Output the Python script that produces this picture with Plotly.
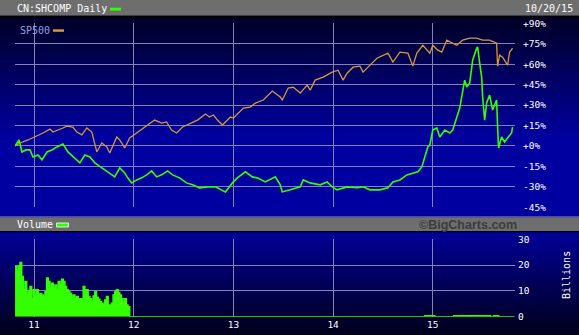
import plotly.graph_objects as go

# ---------------- data ----------------
sp_years = [2010.81, 2010.86, 2010.94, 2011.01, 2011.09, 2011.16, 2011.19, 2011.29, 2011.33, 2011.39,
            2011.43, 2011.48, 2011.53, 2011.58, 2011.61, 2011.63, 2011.68, 2011.73, 2011.76, 2011.83,
            2011.86, 2011.91, 2011.96, 2012.03, 2012.09, 2012.21, 2012.28, 2012.33, 2012.38, 2012.43,
            2012.49, 2012.58, 2012.64, 2012.72, 2012.76, 2012.80, 2012.84, 2012.89, 2012.97, 2013.00,
            2013.10, 2013.17, 2013.22, 2013.30, 2013.39, 2013.47, 2013.49, 2013.55, 2013.60, 2013.67,
            2013.74, 2013.77, 2013.82, 2013.90, 2013.99, 2014.05, 2014.10, 2014.14, 2014.20, 2014.27,
            2014.30, 2014.37, 2014.44, 2014.55, 2014.60, 2014.67, 2014.75, 2014.80, 2014.84, 2014.90,
            2014.97, 2015.00, 2015.05, 2015.09, 2015.14, 2015.24, 2015.30, 2015.37, 2015.44, 2015.50,
            2015.57, 2015.64, 2015.65, 2015.67, 2015.70, 2015.75, 2015.77, 2015.80]
sp_pct = [0.0, 2.2, 4.4, 6.6, 9.5, 12.4, 10.2, 13.2, 14.6, 13.9,
          10.2, 8.1, 13.2, 10.2, 2.2, -4.4, 2.2, -0.7, -5.1, 6.6,
          4.4, -1.5, 5.9, 9.5, 12.4, 19.0, 16.8, 17.6, 11.7, 9.5,
          13.9, 16.8, 19.0, 23.4, 21.2, 22.7, 19.0, 15.4, 21.2, 20.5,
          27.8, 28.5, 31.5, 33.7, 40.3, 35.9, 33.7, 42.5, 43.2, 38.8,
          44.7, 41.0, 48.3, 50.5, 54.2, 55.6, 48.3, 53.4, 57.8, 58.6,
          54.2, 59.3, 64.4, 68.1, 61.5, 68.8, 68.1, 58.6, 68.1, 73.9,
          68.1, 73.9, 70.3, 68.8, 77.6, 73.9, 77.6, 79.1, 79.1, 77.6,
          77.6, 75.4, 58.6, 66.6, 65.1, 59.3, 68.8, 71.7]

sh_years = [2010.81, 2010.83, 2010.85, 2010.88, 2010.92, 2010.96, 2010.99, 2011.04, 2011.08, 2011.13,
            2011.18, 2011.23, 2011.29, 2011.34, 2011.41, 2011.46, 2011.51, 2011.56, 2011.61, 2011.68,
            2011.73, 2011.78, 2011.81, 2011.86, 2011.91, 2011.94, 2011.98, 2012.03, 2012.08, 2012.13,
            2012.18, 2012.23, 2012.28, 2012.34, 2012.39, 2012.46, 2012.53, 2012.59, 2012.66, 2012.74,
            2012.82, 2012.92, 2012.99, 2013.04, 2013.12, 2013.19, 2013.24, 2013.32, 2013.42, 2013.47,
            2013.49, 2013.57, 2013.67, 2013.70, 2013.77, 2013.87, 2013.94, 2013.99, 2014.04, 2014.14,
            2014.24, 2014.30, 2014.37, 2014.47, 2014.55, 2014.60, 2014.67, 2014.74, 2014.80, 2014.85,
            2014.89, 2014.92, 2014.95, 2014.97, 2015.00, 2015.04, 2015.07, 2015.12, 2015.17, 2015.20,
            2015.24, 2015.27, 2015.32, 2015.34, 2015.37, 2015.40, 2015.44, 2015.45, 2015.47, 2015.49,
            2015.50, 2015.52, 2015.54, 2015.57, 2015.60, 2015.64, 2015.65, 2015.66, 2015.69, 2015.72,
            2015.75, 2015.79, 2015.80]
sh_pct = [0.0, 2.2, 4.4, -4.4, -2.9, -2.9, -8.1, -6.6, -10.2, -4.4,
          -2.9, -0.7, 1.5, -4.4, -8.8, -12.4, -6.6, -8.1, -12.4, -16.1,
          -19.0, -21.2, -22.7, -16.1, -19.8, -23.4, -27.1, -24.9, -23.4, -21.2,
          -18.3, -22.7, -21.2, -18.3, -21.2, -23.4, -27.1, -28.5, -30.7, -30.0,
          -30.0, -33.7, -27.1, -23.4, -19.0, -22.7, -23.4, -26.4, -22.7, -28.5,
          -33.7, -32.2, -30.0, -24.9, -27.1, -28.5, -26.4, -30.0, -32.2, -30.0,
          -30.7, -30.0, -32.2, -32.2, -30.7, -26.4, -24.9, -21.2, -19.8, -19.0,
          -15.4, -8.8, -0.7, 0.7, 11.7, 13.2, 6.6, 11.7, 9.5, 11.7,
          21.2, 27.8, 48.3, 43.2, 46.1, 63.0, 71.7, 72.5, 60.8, 50.5,
          35.9, 19.0, 31.5, 37.3, 26.4, 33.7, 13.9, -1.5, 6.6, 2.9,
          5.9, 9.5, 13.9]

# volume (billions): early period sampled every 1/60 year, then sparse small values
vol_start = 2010.81
vol_step = 1.0 / 60
vol_early = [19.5, 18, 19.5, 21, 15.6, 10.4, 13.6, 9, 10, 11.7,
             7, 10.4, 8.4, 10.4, 8.4, 9, 8.4, 7.8, 9.7, 15,
             13.6, 11.7, 13, 11, 12.3, 10.4, 13.6, 12.3, 14.5, 13.6,
             11.7, 10.4, 9.7, 9, 7.5, 8.4, 7, 7.8, 6.5, 7,
             6.5, 11.7, 10.4, 10.4, 7.8, 7, 5.8, 8, 9.7, 7.5,
             6.8, 5.8, 5.2, 4.5, 6.5, 7.8, 4.5, 4.5, 5.2, 8.4,
             9.7, 10.4, 9.4, 8.4, 7, 5.2, 7, 4.5, 3.9]
vol_late_years = [2011.96, 2014.92, 2015.02, 2015.21, 2015.37, 2015.38, 2015.58, 2015.61, 2015.66, 2015.82]
vol_late = [0, 0.4, 0, 0.35, 0, 0.35, 0, 0.35, 0, 0]

year_ticks = [2011, 2012, 2013, 2014, 2015]
year_labels = ["11", "12", "13", "14", "15"]
pct_ticks = [-45, -30, -15, 0, 15, 30, 45, 60, 75, 90]
pct_labels = ["-45%", "-30%", "-15%", "+0%", "+15%", "+30%", "+45%", "+60%", "+75%", "+90%"]
vol_ticks = [0, 10, 20, 30]
title_text = "CN:SHCOMP Daily"
date_text = "10/20/15"

# ---------------- layout helpers ----------------
W, H = 579, 335
def px(x):
    return x / W
def py(y):
    return 1 - y / H

MONO = "DejaVu Sans Mono"
GREEN = "#33ff00"
ORANGE = "#d9963c"
GRID = "#8282b4"

vol_years = [vol_start + i * vol_step for i in range(len(vol_early))] + vol_late_years
vol_vals = vol_early + vol_late

fig = go.Figure()
fig.add_trace(go.Scatter(x=sp_years, y=sp_pct, mode="lines",
                         line=dict(color=ORANGE, width=1.3), xaxis="x", yaxis="y"))
fig.add_trace(go.Scatter(x=sh_years, y=sh_pct, mode="lines",
                         line=dict(color=GREEN, width=1.6), xaxis="x", yaxis="y"))
fig.add_trace(go.Scatter(x=vol_years, y=vol_vals, mode="lines", line_shape="hv",
                         fill="tozeroy", fillcolor=GREEN,
                         line=dict(color=GREEN, width=1.5), xaxis="x2", yaxis="y2"))

xr = [2011 + (15 - 34) / 99.7, 2011 + (515 - 34) / 99.7]

shapes = []
def band(y0, y1, c):
    shapes.append(dict(type="rect", xref="paper", yref="paper", x0=0, x1=1,
                       y0=py(y1), y1=py(y0), fillcolor=c, line=dict(width=0), layer="below"))

n = 50
for i in range(n):
    y0 = 17 + i * 200 / n
    y1 = y0 + 200 / n + 0.5
    t = min(1.0, (y0 - 17) / 120)
    b = int(40 + t * 120)
    band(y0, y1, f"rgb(0,0,{b})")
n2 = 26
for i in range(n2):
    y0 = 232 + i * 103 / n2
    y1 = y0 + 103 / n2 + 0.5
    t = (y0 - 232) / 103
    b = int(150 - t * 125)
    band(y0, y1, f"rgb(0,0,{b})")
band(0, 15.8, "rgb(110,110,110)")
band(15.8, 17.2, "rgb(0,0,0)")
band(216.4, 217.6, "rgb(150,150,175)")
band(217.6, 231, "rgb(110,110,110)")
band(231, 232.2, "rgb(0,0,0)")

def swatch(x0, x1, y0, y1, fill, line=None):
    shapes.append(dict(type="rect", xref="paper", yref="paper", x0=px(x0), x1=px(x1),
                       y0=py(y1), y1=py(y0), fillcolor=fill,
                       line=dict(width=1, color=line) if line else dict(width=0), layer="above"))

swatch(110, 121, 7.7, 10.5, GREEN)
swatch(53, 64, 29.3, 31.8, ORANGE)
swatch(56.5, 68.5, 223, 227, GREEN, "#e8e8e8")

def note(x, y, text, size=10, color="white", xanchor="left", family=MONO, angle=0, weight="normal"):
    return dict(x=px(x), y=py(y), xref="paper", yref="paper", text=text, showarrow=False,
                xanchor=xanchor, yanchor="middle", textangle=angle,
                font=dict(family=family, size=size, color=color, weight=weight))

annotations = [
    note(15, 8.5, title_text),
    note(523, 8.5, date_text),
    note(18, 30.5, "SP500", color="#9c9ce0"),
    note(15, 224.5, "Volume"),
    note(519, 224.5, "©BigCharts.com", size=12.5, color="#3c3c3c", xanchor="right",
         family="Liberation Sans", weight="bold"),
    note(566.5, 275.5, "Billions", angle=-90, xanchor="center"),
]

axis_common = dict(showline=False, zeroline=False, gridcolor=GRID, gridwidth=1,
                   fixedrange=True, ticks="", automargin=False)
fig.update_layout(
    width=W, height=H, autosize=False,
    margin=dict(l=0, r=0, t=0, b=0, pad=0),
    paper_bgcolor="rgb(0,0,60)", plot_bgcolor="rgba(0,0,0,0)",
    showlegend=False,
    xaxis=dict(domain=[px(15), px(515)], range=xr, tickvals=year_ticks,
               showticklabels=False, anchor="y", **axis_common),
    yaxis=dict(domain=[py(207.3), py(23.3)], range=[-45, 90], tickvals=pct_ticks,
               ticktext=pct_labels, side="right", anchor="x", ticklabelstandoff=7,
               tickfont=dict(family=MONO, size=9.5, color="white"), **axis_common),
    xaxis2=dict(domain=[px(15), px(515)], range=xr, tickvals=year_ticks, ticktext=year_labels,
                anchor="y2", ticklabelstandoff=1,
                tickfont=dict(family=MONO, size=9.5, color="white"), **axis_common),
    yaxis2=dict(domain=[py(316.7), py(239.3)], range=[0, 30], tickvals=vol_ticks,
                side="right", anchor="x2", ticklabelstandoff=2,
                tickfont=dict(family=MONO, size=9.5, color="white"), **axis_common),
    shapes=shapes,
    annotations=annotations,
)

fig.write_html(
    "out.html",
    config={"displayModeBar": False},
    post_script="document.documentElement.style.margin='0';document.body.style.margin='0';"
                "document.body.style.padding='0';document.body.style.overflow='hidden';",
)
